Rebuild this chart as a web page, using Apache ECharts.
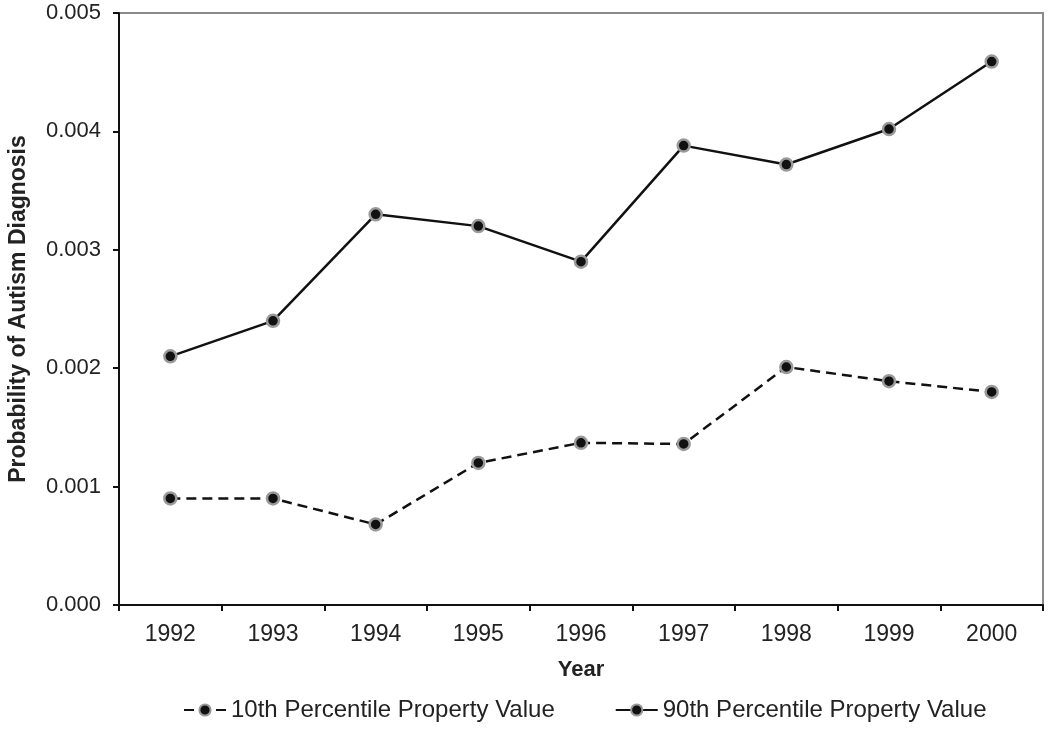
<!DOCTYPE html>
<html>
<head>
<meta charset="utf-8">
<script src="https://cdn.jsdelivr.net/npm/echarts@6/dist/echarts.min.js"></script>
<style>
html,body{margin:0;padding:0;background:#fff;}
#chart{width:1050px;height:731px;}
</style>
</head>
<body>
<div id="chart"></div>
<script>
const years = ['1992','1993','1994','1995','1996','1997','1998','1999','2000'];
const p10 = [0.0009, 0.0009, 0.00068, 0.0012, 0.00137, 0.00136, 0.00201, 0.00189, 0.0018];
const p90 = [0.0021, 0.0024, 0.0033, 0.0032, 0.0029, 0.00388, 0.00372, 0.00402, 0.00459];
const seriesNames = ['10th Percentile Property Value', '90th Percentile Property Value'];

const font = 'Liberation Sans, Arial, sans-serif';
const chart = echarts.init(document.getElementById('chart'));
const markerStyle = {color: '#111', borderColor: '#9a9a9a', borderWidth: 2.5};
chart.setOption({
  animation: false,
  backgroundColor: '#fff',
  grid: {left: 119, top: 13, right: 7, bottom: 126, show: true, borderColor: '#8a8a8a', borderWidth: 2,
         containLabel: false, outerBoundsMode: 'none'},
  xAxis: {
    type: 'category', data: years, boundaryGap: true,
    name: 'Year', nameLocation: 'middle', nameGap: 54,
    nameTextStyle: {fontFamily: font, fontSize: 22, fontWeight: 'bold', color: '#222'},
    axisLine: {lineStyle: {color: '#111', width: 2}},
    axisTick: {show: true, length: 6, lineStyle: {color: '#111', width: 2}},
    axisLabel: {fontFamily: font, fontSize: 23, color: '#222', margin: 18}
  },
  yAxis: {
    type: 'value', min: 0, max: 0.005, interval: 0.001,
    name: 'Probability of Autism Diagnosis', nameLocation: 'middle', nameGap: 89,
    nameTextStyle: {fontFamily: font, fontSize: 23, fontWeight: 'bold', color: '#222'},
    axisLine: {show: true, lineStyle: {color: '#111', width: 2}},
    axisTick: {show: true, length: 6, lineStyle: {color: '#111', width: 2}},
    splitLine: {show: false},
    axisLabel: {fontFamily: font, fontSize: 22, color: '#222', margin: 18, formatter: v => v.toFixed(3)}
  },
  legend: {
    bottom: 4, left: 178, itemWidth: 42, itemHeight: 14, itemGap: 60,
    textStyle: {fontFamily: font, fontSize: 24, color: '#222'},
    data: seriesNames
  },
  series: [
    {name: seriesNames[0], type: 'line', data: p10, symbol: 'circle', symbolSize: 12,
     lineStyle: {color: '#111', width: 2.5, type: [10, 6]}, itemStyle: markerStyle},
    {name: seriesNames[1], type: 'line', data: p90, symbol: 'circle', symbolSize: 12,
     lineStyle: {color: '#111', width: 2.5}, itemStyle: markerStyle}
  ]
});
</script>
</body>
</html>
